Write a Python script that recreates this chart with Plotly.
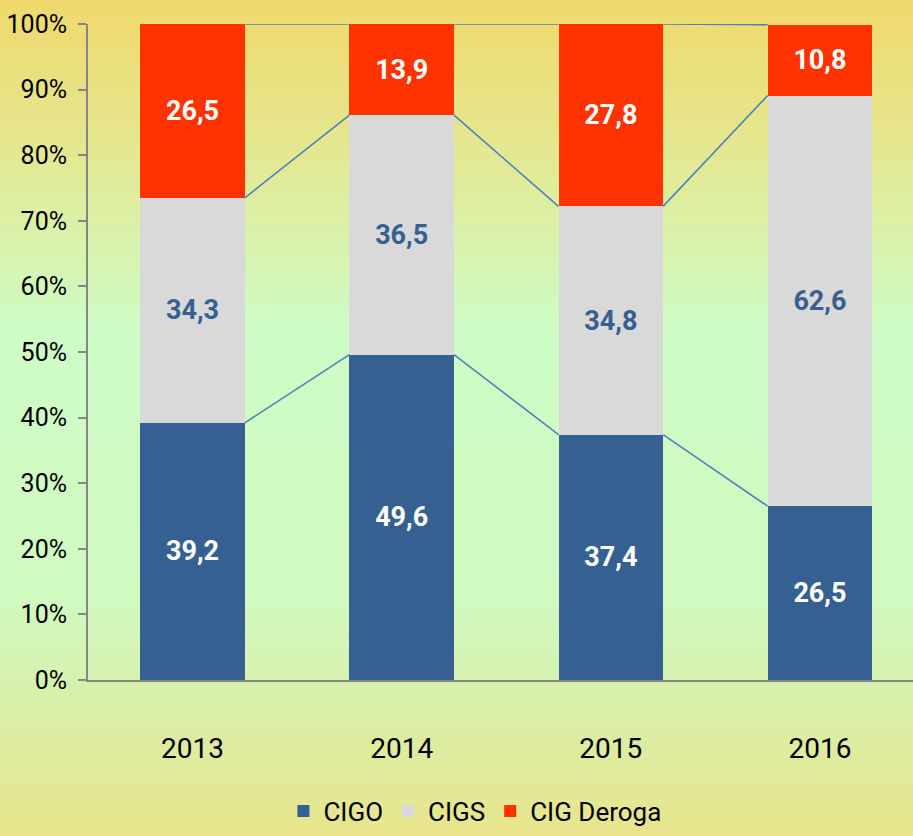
import plotly.graph_objects as go

years = ["2013", "2014", "2015", "2016"]
cigo = [39.2, 49.6, 37.4, 26.5]
cigs = [34.3, 36.5, 34.8, 62.6]
deroga = [26.5, 13.9, 27.8, 10.8]
y_ticks = [0, 10, 20, 30, 40, 50, 60, 70, 80, 90, 100]
y_tick_labels = [f"{v}%" for v in y_ticks]

W, H = 913, 836
ML, MR, MT, MB = 88, 0, 24, 156
FONT = "Roboto, sans-serif"
BAR_W = 0.5

fig = go.Figure()

# background gradient (paper coords)
stops = [(0, (240, 216, 108)), (170, (226, 234, 150)), (330, (206, 252, 198)),
         (600, (208, 250, 192)), (700, (216, 240, 170)), (836, (232, 228, 140))]
ph = H - MT - MB
pw = W - ML - MR
n = 120
shapes = []
for i in range(n):
    y0p = H * i / n
    y1p = H * (i + 1) / n
    ym = (y0p + y1p) / 2
    for k in range(len(stops) - 1):
        if stops[k][0] <= ym <= stops[k + 1][0]:
            t = (ym - stops[k][0]) / (stops[k + 1][0] - stops[k][0])
            c = [round(stops[k][1][j] + t * (stops[k + 1][1][j] - stops[k][1][j])) for j in range(3)]
            break
    py0 = (H - MB - y1p) / ph
    py1 = (H - MB - y0p) / ph
    shapes.append(dict(type="rect", xref="paper", yref="paper", x0=-ML / pw - 0.01, x1=1.01,
                       y0=py0, y1=py1 + 0.002, fillcolor=f"rgb({c[0]},{c[1]},{c[2]})",
                       line=dict(width=0), layer="below"))

x_idx = list(range(len(years)))

series = [("CIGO", cigo, "#376092", "white"),
          ("CIGS", cigs, "#D9D9D9", "#376092"),
          ("CIG Deroga", deroga, "#FF3300", "white")]
for name, vals, col, tcol in series:
    fig.add_trace(go.Bar(
        x=x_idx, y=vals, name=name, width=BAR_W,
        marker=dict(color=col, line=dict(width=0)),
        text=[f"{v:.1f}".replace(".", ",") for v in vals],
        textposition="inside", insidetextanchor="middle",
        textfont=dict(family=FONT, size=27, color=tcol, weight="bold"),
        constraintext="none", hoverinfo="skip",
    ))

# series lines
cum1 = cigo
cum2 = [a + b for a, b in zip(cigo, cigs)]
cum3 = [a + b + c for a, b, c in zip(cigo, cigs, deroga)]
for cum in (cum1, cum2, cum3):
    for i in range(len(years) - 1):
        fig.add_trace(go.Scatter(
            x=[x_idx[i] + BAR_W / 2, x_idx[i + 1] - BAR_W / 2],
            y=[cum[i], cum[i + 1]], mode="lines",
            line=dict(color="#4F81BD", width=1.6), showlegend=False, hoverinfo="skip"))

fig.update_layout(
    width=W, height=H, barmode="stack", bargap=0.5,
    margin=dict(l=ML, r=MR, t=MT, b=MB),
    paper_bgcolor="rgb(232,228,140)", plot_bgcolor="rgba(0,0,0,0)",
    shapes=shapes,
    font=dict(family=FONT, color="black"),
    xaxis=dict(tickvals=x_idx, ticktext=years, range=[-0.5, 3.445],
               showgrid=False, zeroline=False, showline=True, linecolor="#868686", linewidth=2,
               ticks="", tickfont=dict(family=FONT, size=28, color="black"), ticklabelstandoff=42),
    yaxis=dict(range=[0, 100], tickvals=y_ticks, ticktext=y_tick_labels,
               showgrid=False, zeroline=False, showline=True, linecolor="#868686", linewidth=2,
               ticks="outside", ticklen=8, tickwidth=2, tickcolor="#868686",
               tickfont=dict(family=FONT, size=25, color="black"), ticklabelstandoff=6),
    legend=dict(orientation="h", x=0.469, xanchor="center", y=-0.2, yanchor="middle",
                font=dict(family=FONT, size=26, color="black"), traceorder="normal",
                bgcolor="rgba(0,0,0,0)", itemwidth=30),
)

fig.write_html("out.html", config={"displayModeBar": False},
               post_script="document.body.style.margin='0';document.body.style.padding='0';")
